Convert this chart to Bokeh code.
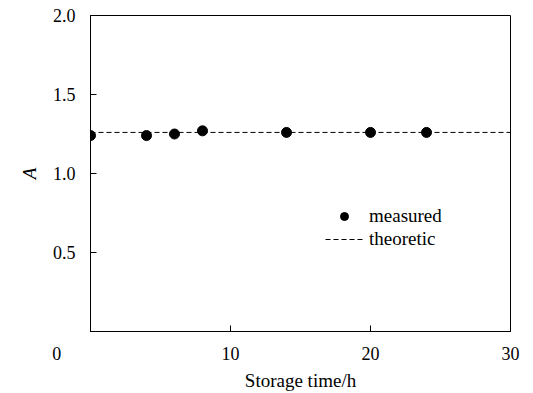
from bokeh.plotting import figure
from bokeh.models import Range1d, FixedTicker, Legend, LegendItem
from bokeh.embed import file_html
from bokeh.resources import INLINE

# data
storage_time = [0, 4, 6, 8, 14, 20, 24]
measured_A = [1.24, 1.24, 1.25, 1.27, 1.26, 1.26, 1.26]
theoretic_x = [0, 30]
theoretic_A = [1.26, 1.26]
x_ticks = [0, 10, 20, 30]
y_ticks = [0.5, 1.0, 1.5, 2.0]

FONT = "Liberation Serif"
NBSP = "\u00a0"

p = figure(width=533, height=393, output_backend="svg", toolbar_location=None,
           x_range=Range1d(0, 30), y_range=Range1d(0, 2.0),
           min_border_left=90, min_border_right=23, min_border_top=15, min_border_bottom=62)

p.grid.visible = False
p.outline_line_color = "black"
p.outline_line_width = 1
p.outline_line_alpha = 1

line_r = p.line(theoretic_x, theoretic_A, line_color="black", line_width=1, line_dash="5 3")
pts_r = p.scatter(storage_time, measured_A, size=10, fill_color="black", line_color="black")

for ax in (p.xaxis[0], p.yaxis[0]):
    ax.axis_line_color = "black"
    ax.axis_line_width = 1
    ax.major_tick_in = 6
    ax.major_tick_out = 0
    ax.minor_tick_line_color = None
    ax.major_label_text_font = FONT
    ax.major_label_text_font_size = "18px"
    ax.major_label_text_color = "black"
    ax.axis_label_text_font = FONT
    ax.axis_label_text_font_size = "19px"
    ax.axis_label_text_font_style = "normal"
    ax.axis_label_text_color = "black"
    ax.major_label_standoff = 15

p.xaxis.ticker = FixedTicker(ticks=x_ticks)
# origin label "0" sits left of the frame corner in the reference
p.xaxis.major_label_overrides = {0: "0" + NBSP * 15}
p.xaxis.axis_label = "Storage time/h"
p.xaxis.major_label_standoff = 12
p.xaxis.axis_label_standoff = 3

p.yaxis.ticker = FixedTicker(ticks=y_ticks)
p.yaxis.major_label_overrides = {0.5: "0.5", 1.0: "1.0", 1.5: "1.5", 2.0: "2.0"}
p.yaxis.axis_label = "A"
p.yaxis.axis_label_text_font_style = "italic"
p.yaxis.axis_label_standoff = 10

legend = Legend(items=[LegendItem(label="measured", renderers=[pts_r]),
                       LegendItem(label="theoretic", renderers=[line_r])],
                location=(235, 81), padding=0, margin=0, spacing=1,
                glyph_width=38, glyph_height=20, label_height=20, label_standoff=6,
                border_line_color=None, background_fill_alpha=0,
                label_text_font=FONT, label_text_font_size="19px", label_text_color="black")
p.add_layout(legend)

open("out.html", "w").write(file_html(p, INLINE))
